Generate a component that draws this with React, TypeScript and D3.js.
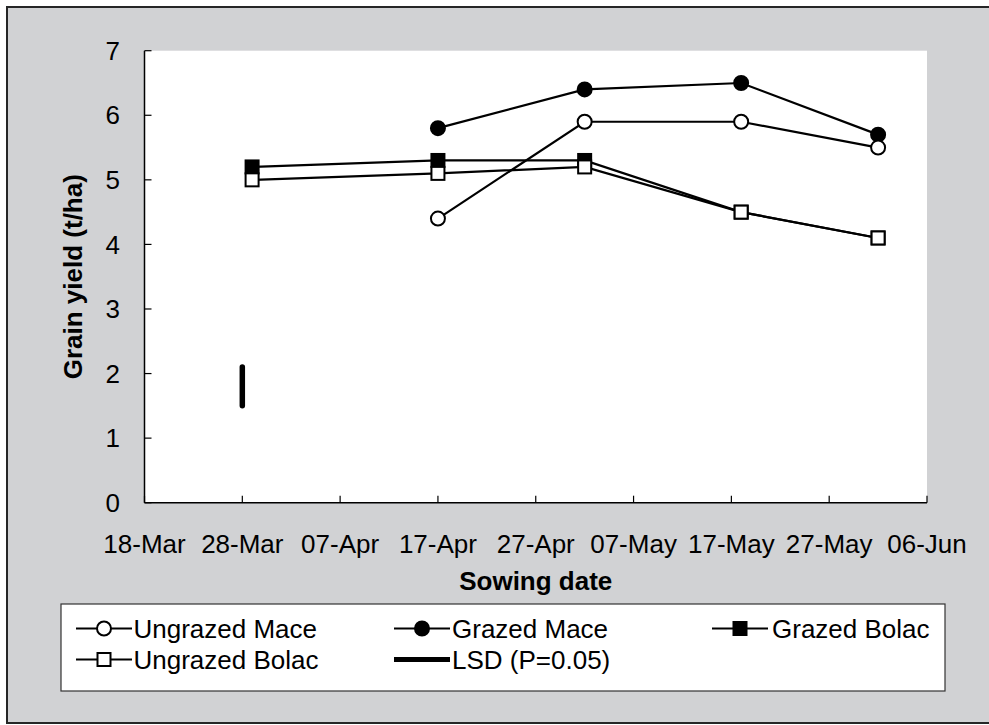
import React from 'react';
import * as d3 from 'd3';

// ---------- data ----------
const sowingDates = ['2010-03-29', '2010-04-17', '2010-05-02', '2010-05-18', '2010-06-01'];
const ungrazedMace: (number | null)[] = [null, 4.4, 5.9, 5.9, 5.5];
const grazedMace: (number | null)[] = [null, 5.8, 6.4, 6.5, 5.7];
const grazedBolac: (number | null)[] = [5.2, 5.3, 5.3, 4.5, 4.1];
const ungrazedBolac: (number | null)[] = [5.0, 5.1, 5.2, 4.5, 4.1];
const lsdDate = '2010-03-28';
const lsdLow = 1.5;
const lsdHigh = 2.1;
const xStart = '2010-03-18';
const xEnd = '2010-06-06';
const xTickStepDays = 10;
const yTicks = [0, 1, 2, 3, 4, 5, 6, 7];
const seriesNames = ['Ungrazed Mace', 'Grazed Mace', 'Grazed Bolac', 'Ungrazed Bolac', 'LSD (P=0.05)'];

const FONT = '"Liberation Sans", Arial, sans-serif';
const FS = 26;

type Marker = 'circle' | 'square';
interface Series { name: string; values: (number | null)[]; marker: Marker; fill: string }

const series: Series[] = [
  { name: seriesNames[2], values: grazedBolac, marker: 'square', fill: '#000' },
  { name: seriesNames[3], values: ungrazedBolac, marker: 'square', fill: '#fff' },
  { name: seriesNames[1], values: grazedMace, marker: 'circle', fill: '#000' },
  { name: seriesNames[0], values: ungrazedMace, marker: 'circle', fill: '#fff' },
];

function MarkerShape({ type, x, y, fill }: { type: Marker; x: number; y: number; fill: string }) {
  if (type === 'circle') {
    return <circle cx={x} cy={y} r={7} fill={fill} stroke="#000" strokeWidth={2} />;
  }
  const s = 13;
  return <rect x={x - s / 2} y={y - s / 2} width={s} height={s} fill={fill} stroke="#000" strokeWidth={2} />;
}

export default function App() {
  const W = 989, H = 725;
  const plot = { left: 144.5, right: 927, top: 50.7, bottom: 502.7 };
  const parse = (s: string) => new Date(s + 'T00:00:00Z');
  const x = d3.scaleUtc().domain([parse(xStart), parse(xEnd)]).range([plot.left, plot.right]);
  const y = d3.scaleLinear().domain([0, 7]).range([plot.bottom, plot.top]);
  const nTicks = Math.round(d3.utcDay.count(parse(xStart), parse(xEnd)) / xTickStepDays);
  const xTicks = d3.range(nTicks + 1).map(i => d3.utcDay.offset(parse(xStart), i * xTickStepDays));
  const fmt = d3.utcFormat('%d-%b');

  const line = d3.line<[Date, number | null]>()
    .defined(d => d[1] != null)
    .x(d => x(d[0]))
    .y(d => y(d[1] as number));

  const legendItems = [
    { name: seriesNames[0], kind: 'circle', fill: '#fff', cx: 104, cy: 628.5, tx: 133.5 },
    { name: seriesNames[1], kind: 'circle', fill: '#000', cx: 422, cy: 628.5, tx: 452 },
    { name: seriesNames[2], kind: 'square', fill: '#000', cx: 740, cy: 628.5, tx: 772 },
    { name: seriesNames[3], kind: 'square', fill: '#fff', cx: 104, cy: 659.5, tx: 133.5 },
    { name: seriesNames[4], kind: 'lsd', fill: '#000', cx: 422, cy: 659.5, tx: 452 },
  ];

  return (
    <svg width={W} height={H} style={{ position: 'absolute', left: 0, top: 0 }} fontFamily={FONT}>
      <rect x={7} y={7} width={W + 10} height={716} fill="#d1d2d4" stroke="#262626" strokeWidth={2} />
      <rect x={plot.left} y={plot.top} width={plot.right - plot.left} height={plot.bottom - plot.top} fill="#fff" />

      {/* axes */}
      <line x1={plot.left} x2={plot.left} y1={plot.top} y2={plot.bottom} stroke="#000" strokeWidth={1.5} />
      <line x1={plot.left} x2={plot.right} y1={plot.bottom} y2={plot.bottom} stroke="#000" strokeWidth={1.5} />
      {yTicks.map(t => (
        <g key={'y' + t}>
          <line x1={plot.left} x2={plot.left + 7} y1={y(t)} y2={y(t)} stroke="#000" strokeWidth={1.2} />
          <text x={120} y={y(t)} dy="0.35em" textAnchor="end" fontSize={FS}>{t}</text>
        </g>
      ))}
      {xTicks.map((t, i) => (
        <g key={'x' + i}>
          <line x1={x(t)} x2={x(t)} y1={plot.bottom} y2={plot.bottom - 7} stroke="#000" strokeWidth={1.2} />
          <text x={x(t)} y={553} textAnchor="middle" fontSize={FS}>{fmt(t)}</text>
        </g>
      ))}
      <text x={(plot.left + plot.right) / 2} y={590} textAnchor="middle" fontSize={FS} fontWeight="bold">Sowing date</text>
      <text transform={`translate(82,${(plot.top + plot.bottom) / 2}) rotate(-90)`} textAnchor="middle" fontSize={FS} fontWeight="bold">Grain yield (t/ha)</text>

      {/* LSD bar */}
      <line x1={x(parse(lsdDate))} x2={x(parse(lsdDate))} y1={y(lsdLow)} y2={y(lsdHigh)} stroke="#000" strokeWidth={5.5} strokeLinecap="round" />

      {/* series */}
      {series.map(s => {
        const pts: [Date, number | null][] = sowingDates.map((d, i) => [parse(d), s.values[i]]);
        return (
          <g key={s.name}>
            <path d={line(pts) || ''} fill="none" stroke="#000" strokeWidth={2.2} />
            {pts.filter(p => p[1] != null).map((p, i) => (
              <MarkerShape key={i} type={s.marker} x={x(p[0])} y={y(p[1] as number)} fill={s.fill} />
            ))}
          </g>
        );
      })}

      {/* legend */}
      <rect x={61} y={604} width={884} height={87} fill="#fff" stroke="#333" strokeWidth={1.2} />
      {legendItems.map(it => (
        <g key={it.name}>
          {it.kind === 'lsd' ? (
            <line x1={it.cx - 28} x2={it.cx + 28} y1={it.cy} y2={it.cy} stroke="#000" strokeWidth={5} />
          ) : (
            <>
              <line x1={it.cx - 28} x2={it.cx + 28} y1={it.cy} y2={it.cy} stroke="#000" strokeWidth={2.2} />
              <MarkerShape type={it.kind as Marker} x={it.cx} y={it.cy} fill={it.fill} />
            </>
          )}
          <text x={it.tx} y={it.cy + 9.5} fontSize={FS}>{it.name}</text>
        </g>
      ))}
    </svg>
  );
}
